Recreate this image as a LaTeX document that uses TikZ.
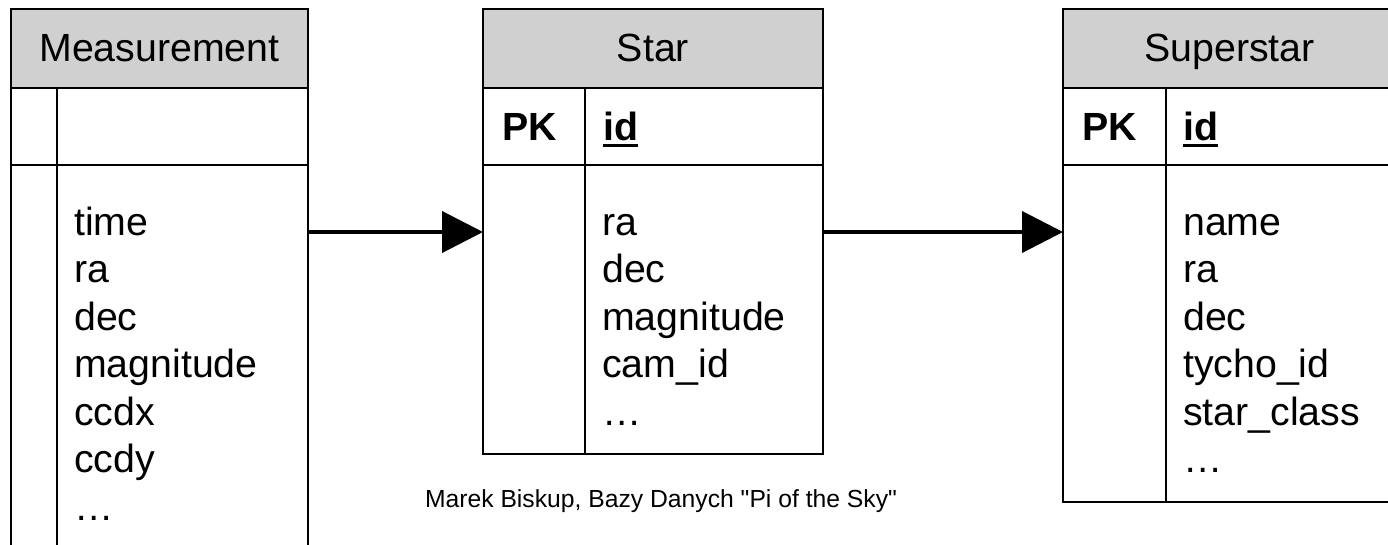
\documentclass[tikz,border=0pt]{standalone}
\usepackage{fontspec}
\setmainfont{Liberation Sans}[Ligatures=TeXOff]
\usetikzlibrary{arrows.meta}
\definecolor{hdrgray}{RGB}{208,208,208}
\begin{document}
\begin{tikzpicture}[x=1pt,y=-1pt,
  frame/.style={draw=black,line width=2.8pt},
  tablebox/.style={frame,rectangle,inner sep=0pt,outer sep=0pt,anchor=north west},
  hdrbox/.style={tablebox,fill=hdrgray,minimum height=79pt},
  title/.style={inner sep=0pt,anchor=base,font=\fontsize{39.3}{47.5}\selectfont},
  fld/.style={inner sep=0pt,anchor=base west,font=\fontsize{39.3}{47.5}\selectfont},
  keyfld/.style={inner sep=0pt,anchor=base west,font=\fontsize{39.3}{47.5}\selectfont\bfseries},
  uline/.style={line width=3pt},
  link/.style={line width=4pt,-{Triangle[length=41pt,width=41pt]}},
  note/.style={inner sep=0pt,anchor=base,font=\fontsize{24.7}{30}\selectfont}]
\useasboundingbox (0,0) rectangle (1388,544);
\clip (0,0) rectangle (1388,544);

% ---------- Measurement ----------
\node[tablebox,minimum width=297pt,minimum height=551pt] (meas) at (11,9) {};
\node[hdrbox,minimum width=297pt] (measH) at (11,9) {};
\draw[frame] (11,165) -- (308,165);
\draw[frame] (57,88) -- (57,560);
\node[title] (measT) at (159.5,61) {Measurement};
\foreach \t [count=\i] in {time,ra,dec,magnitude,ccdx,ccdy,…}
  \node[fld] (mf\i) at (74,{235+47.5*(\i-1)}) {\t};

% ---------- Star ----------
\node[tablebox,minimum width=340pt,minimum height=445pt] (star) at (483,9) {};
\node[hdrbox,minimum width=340pt] (starH) at (483,9) {};
\draw[frame] (483,165) -- (823,165);
\draw[frame] (585,88) -- (585,454);
\node[title] (starT) at (653,61) {Star};
\node[keyfld] (starPK) at (502,140) {PK};
\node[keyfld] (starId) at (603,140) {id};
\draw[uline] ([yshift=-5pt]starId.base west) -- ([yshift=-5pt]starId.base east);
\foreach \t [count=\i] in {ra,dec,magnitude,cam\_id,…}
  \node[fld] (sf\i) at (602,{235+47.5*(\i-1)}) {\t};

% ---------- Superstar ----------
\node[tablebox,minimum width=333pt,minimum height=493pt] (sup) at (1063,9) {};
\node[hdrbox,minimum width=333pt] (supH) at (1063,9) {};
\draw[frame] (1063,165) -- (1396,165);
\draw[frame] (1166,88) -- (1166,502);
\node[title] (supT) at (1229.5,61) {Superstar};
\node[keyfld] (supPK) at (1082,140) {PK};
\node[keyfld] (supId) at (1183,140) {id};
\draw[uline] ([yshift=-5pt]supId.base west) -- ([yshift=-5pt]supId.base east);
\foreach \t [count=\i] in {name,ra,dec,tycho\_id,star\_class,…}
  \node[fld] (uf\i) at (1183,{235+47.5*(\i-1)}) {\t};

% ---------- connectors ----------
\coordinate (ay) at (0,232);
\draw[link] (meas.east |- ay) -- (star.west |- ay);
\draw[link] (star.east |- ay) -- (sup.west |- ay);

% ---------- footer ----------
\node[note] (credit) at (661,507) {Marek Biskup, Bazy Danych "Pi of the Sky"};
\end{tikzpicture}
\end{document}
